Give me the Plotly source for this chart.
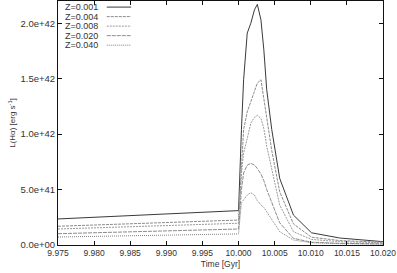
import plotly.graph_objects as go

# time [Gyr]
time = [9.975, 10.000, 10.0004, 10.0007, 10.0012, 10.0017, 10.0022, 10.0026,
        10.0031, 10.0035, 10.0039, 10.0046, 10.0057, 10.0076, 10.0101, 10.0140, 10.020]

# L(Halpha) in units of 1e41 erg/s
z001 = [2.35, 3.1, 10.4, 14.9, 19.1, 20.0, 21.2, 21.7, 20.3, 17.6, 14.0, 10.4, 6.0, 2.7, 1.1, 0.63, 0.3]
z004 = [1.69, 2.25, 7.0, 10.4, 12.0, 12.9, 13.9, 14.6, 14.9, 13.1, 11.5, 8.5, 4.8, 1.9, 0.7, 0.4, 0.25]
z008 = [1.44, 1.96, 6.5, 8.3, 9.6, 11.0, 11.5, 11.7, 11.4, 10.5, 8.9, 6.8, 3.6, 1.2, 0.5, 0.3, 0.2]
z020 = [1.02, 1.44, 5.0, 6.5, 7.2, 7.37, 7.2, 6.9, 6.4, 5.8, 5.0, 3.8, 2.0, 0.6, 0.25, 0.15, 0.1]
z040 = [0.72, 1.0, 3.8, 4.06, 4.5, 4.72, 4.5, 4.0, 3.6, 3.4, 3.0, 2.2, 1.2, 0.45, 0.2, 0.12, 0.08]

names = ['Z=0.001', 'Z=0.004', 'Z=0.008', 'Z=0.020', 'Z=0.040']
series = [z001, z004, z008, z020, z040]
colors = ['#3a3a3a', '#8c8c8c', '#9a9a9a', '#8c8c8c', '#808080']
dashes = ['solid', '3px,1px', '2px,1px', '4px,1px', '1px,1px']

x_ticks = [9.975, 9.980, 9.985, 9.990, 9.995, 10.000, 10.005, 10.010, 10.015, 10.020]
x_labels = ['9.975', '9.980', '9.985', '9.990', '9.995', '10.000', '10.005', '10.010', '10.015', '10.020']
y_ticks = [0, 5e41, 1e42, 1.5e42, 2e42]
y_labels = ['0.0e+00', '5.0e+41', '1.0e+42', '1.5e+42', '2.0e+42']

fam = 'Liberation Sans, Arial, sans-serif'
fnt = dict(family=fam, size=9, color='#333333')

fig = go.Figure()
for name, vals, c, d in zip(names, series, colors, dashes):
    fig.add_trace(go.Scatter(
        x=time, y=[v * 1e41 for v in vals],
        mode='lines', name=name,
        line=dict(color=c, width=1, dash=d),
        showlegend=False,
    ))

# gnuplot style key: label on the left, sample on the right
for i, (name, c, d) in enumerate(zip(names, colors, dashes)):
    yk = 0.975 - i * 0.039
    fig.add_annotation(x=0.13, y=yk, xref='paper', yref='paper', text=name,
                       showarrow=False, xanchor='right', yanchor='middle', font=fnt)
    fig.add_shape(type='line', xref='paper', yref='paper', x0=0.15, x1=0.225, y0=yk, y1=yk,
                  line=dict(color=c, width=1, dash=d))

fig.update_xaxes(range=[9.975, 10.020], tickvals=x_ticks, ticktext=x_labels,
                 ticks='inside', ticklen=4, mirror='ticks', showline=True,
                 linecolor='#111111', linewidth=1, tickcolor='#111111', showgrid=False,
                 zeroline=False, tickfont=dict(family=fam, size=8.5, color='#333333'),
                 title=dict(text='Time [Gyr]', font=dict(family=fam, size=8.5, color='#333333'),
                            standoff=3))
fig.update_yaxes(range=[0, 2.2e42], tickvals=y_ticks, ticktext=y_labels,
                 ticks='inside', ticklen=4, mirror='ticks', showline=True,
                 linecolor='#111111', linewidth=1, tickcolor='#111111', showgrid=False,
                 zeroline=False, tickfont=dict(family=fam, size=9.5, color='#333333'),
                 title=dict(text='L(H\u03b1) [erg s<sup>-1</sup>]',
                            font=dict(family=fam, size=8, color='#333333'), standoff=3))

fig.update_layout(
    width=397, height=273,
    margin=dict(l=58, r=14, t=1, b=28),
    plot_bgcolor='white', paper_bgcolor='white',
    font=fnt,
)

fig.write_html("out.html", config={'displayModeBar': False},
               post_script="document.body.style.margin='0';")
